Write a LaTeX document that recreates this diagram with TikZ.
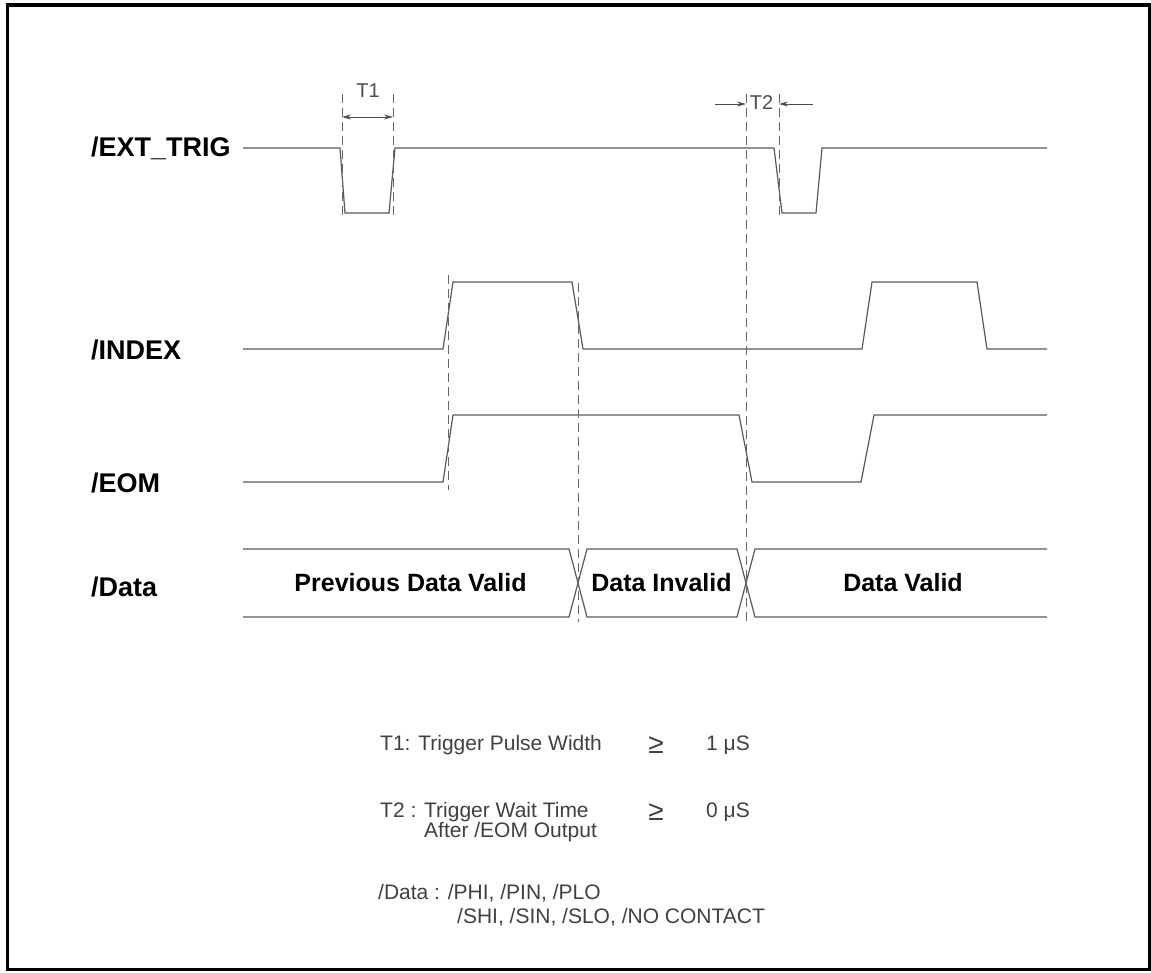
\documentclass[tikz,border=0pt]{standalone}
\usepackage{fontspec}
\setmainfont{Liberation Sans}
\usetikzlibrary{arrows.meta}
\begin{document}
\begin{tikzpicture}[x=1pt,y=-1pt,
  sig/.style={line width=1.2pt, draw=black!65, line join=miter},
  guide/.style={line width=1pt, draw=black!60, dash pattern=on 9pt off 5pt},
  lbl/.style={font=\fontsize{27}{30}\selectfont\bfseries, anchor=west, inner sep=0},
  dlbl/.style={font=\fontsize{25}{30}\selectfont\bfseries, inner sep=0},
  note/.style={font=\fontsize{21}{24}\selectfont, text=black!75, inner sep=0, anchor=west},
  geq/.style={font=\fontsize{28}{30}\selectfont, text=black!75, inner sep=0},
  tlbl/.style={font=\fontsize{20}{22}\selectfont, text=black!70, inner sep=0},
  tip/.tip={Stealth[length=9pt,width=5pt]},
  dim/.style={line width=0.9pt, draw=black!70}]

\useasboundingbox (0,0) rectangle (1151,972);
\draw[line width=3.2pt] (7.5,5) rectangle (1149.5,969.5);

% signal labels
\node[lbl] (lext) at (91,148) {/EXT\_TRIG};
\node[lbl] (lidx) at (91,350) {/INDEX};
\node[lbl] (leom) at (91,483) {/EOM};
\node[lbl] (ldat) at (91,587) {/Data};

% waveforms
\draw[sig] (243,148) -- (340,148) -- (345,213) -- (389,213) -- (395,148) -- (774,148)
  -- (782,213) -- (816,213) -- (822,148) -- (1047,148);
\draw[sig] (243,349) -- (443,349) -- (453,282) -- (572,282) -- (583,349) -- (862,349)
  -- (872,282) -- (977,282) -- (987,349) -- (1047,349);
\draw[sig] (243,482) -- (443,482) -- (453,415) -- (739,415) -- (752,482) -- (861,482)
  -- (874,415) -- (1047,415);
\draw[sig] (243,549) -- (569,549) -- (587,617) -- (737,617) -- (755,549) -- (1047,549);
\draw[sig] (243,617) -- (569,617) -- (587,549) -- (737,549) -- (755,617) -- (1047,617);

% data labels
\node[dlbl] (dprev) at (410.5,583) {Previous Data Valid};
\node[dlbl] (dinv) at (661.5,583) {Data Invalid};
\node[dlbl] (dval) at (903,583) {Data Valid};

% guide lines
\draw[guide] (342,94) -- (342,216);
\draw[guide] (393,94) -- (393,216);
\draw[guide] (746,94) -- (746,622);
\draw[guide] (779,94) -- (779,216);
\draw[guide] (448,275) -- (448,490);
\draw[guide] (578,283) -- (578,622);

% T1
\coordinate (t1a) at (342,117);
\coordinate (t1b) at (393,117);
\draw[dim,{tip}-{tip}] (t1a) -- (t1b);
\node[tlbl] (t1) at (368,91) {T1};

% T2
\coordinate (t2l) at (715,104);
\coordinate (t2a) at (746,104);
\coordinate (t2r) at (813,104);
\coordinate (t2b) at (779,104);
\draw[dim,-{tip}] (t2l) -- (t2a);
\draw[dim,-{tip}] (t2r) -- (t2b);
\node[tlbl] (t2) at (761.5,103) {T2};

% notes
\node[note] (n1) at (380,745) {T1: Trigger Pulse Width};
\node[geq] (g1) at (656,745) {≥};
\node[note,anchor=east] (v1) at (750,745) {1 μS};
\node[note] (n2) at (380,812) {T2 : Trigger Wait Time};
\node[note] (n2b) at (424,832) {After /EOM Output};
\node[geq] (g2) at (656,812) {≥};
\node[note,anchor=east] (v2) at (750,812) {0 μS};
\node[note] (n3) at (378,893) {/Data : /PHI, /PIN, /PLO};
\node[note] (n3b) at (457,917) {/SHI, /SIN, /SLO, /NO CONTACT};
\end{tikzpicture}
\end{document}
